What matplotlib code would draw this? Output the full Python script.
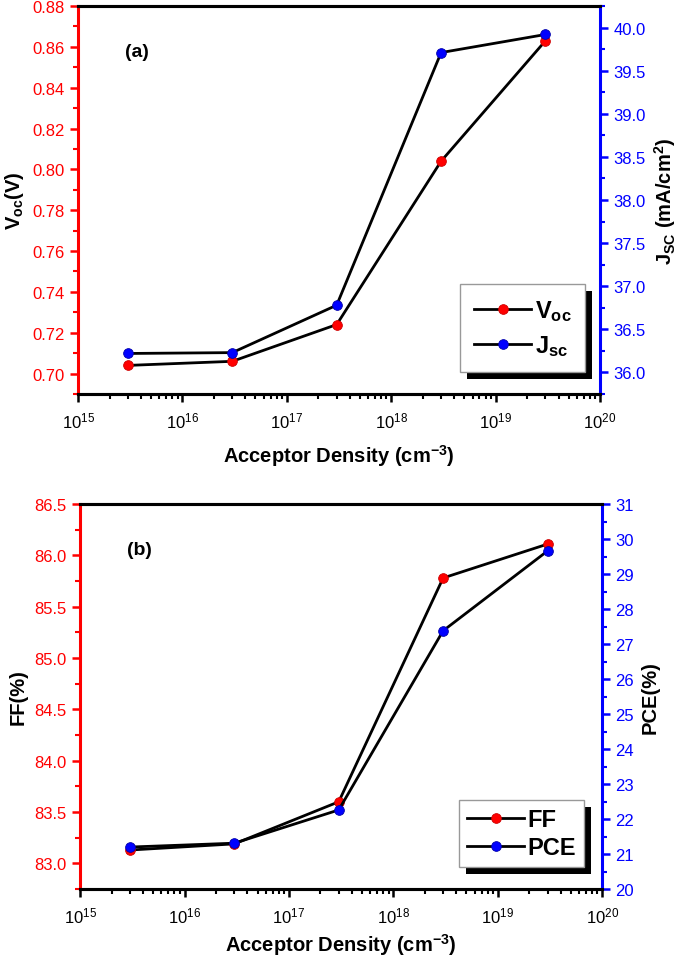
import matplotlib
matplotlib.use("Agg")
import matplotlib.pyplot as plt
from matplotlib.ticker import MultipleLocator, LogLocator, NullFormatter
from matplotlib.patches import Rectangle

plt.rcParams['font.family'] = ['Liberation Sans', 'DejaVu Sans']
plt.rcParams['mathtext.fontset'] = 'custom'
plt.rcParams['mathtext.rm'] = 'Liberation Sans'
plt.rcParams['mathtext.it'] = 'Liberation Sans:italic'
plt.rcParams['mathtext.bf'] = 'Liberation Sans:bold'
plt.rcParams['axes.unicode_minus'] = False

# acceptor density (cm^-3)
density = [3e15, 3e16, 3e17, 3e18, 3e19]

# panel (a)
voc = [0.704, 0.706, 0.724, 0.804, 0.863]
jsc = [36.22, 36.23, 36.78, 39.71, 39.92]

# panel (b)
ff = [83.13, 83.19, 83.60, 85.78, 86.11]
pce = [21.20, 21.31, 22.26, 27.38, 29.66]

fig = plt.figure(figsize=(6.85, 9.62), dpi=100)


def make_panel(rect, left_vals, right_vals, left_lim, right_lim, left_step, right_step,
               left_fmt, left_label, right_label, tag, names, leg_anchor, leg_size,
               leg_pad, leg_space, xpad):
    ax = fig.add_axes(rect)
    ax2 = ax.twinx()
    ax.set_xscale('log')
    ax.set_xlim(1e15, 1e20)
    ax.set_ylim(*left_lim)
    ax2.set_ylim(*right_lim)

    ax.plot(density, left_vals, color='black', lw=2.0, marker='o', ms=7,
            mfc='red', mec='#cc0000', mew=0.6, zorder=3)
    ax2.plot(density, right_vals, color='black', lw=2.0, marker='o', ms=7,
             mfc='blue', mec='#0000aa', mew=0.6, zorder=3)

    # spines
    for a in (ax, ax2):
        a.spines['top'].set_linewidth(2.2)
        a.spines['bottom'].set_linewidth(2.2)
    ax.spines['left'].set_color('red')
    ax.spines['left'].set_linewidth(2.2)
    ax2.spines['right'].set_color('blue')
    ax2.spines['right'].set_linewidth(2.2)
    ax2.spines['left'].set_visible(False)

    # x ticks
    ax.xaxis.set_major_locator(LogLocator(base=10, numticks=10))
    ax.xaxis.set_minor_locator(LogLocator(base=10, subs=range(2, 10), numticks=100))
    ax.xaxis.set_minor_formatter(NullFormatter())
    ax.tick_params(axis='x', which='major', direction='out', length=6, width=1.8,
                   labelsize=12, pad=6)
    ax.tick_params(axis='x', which='minor', direction='out', length=3.5, width=1.5)

    # y ticks
    ax.yaxis.set_major_locator(MultipleLocator(left_step))
    ax.yaxis.set_minor_locator(MultipleLocator(left_step / 2))
    ax.yaxis.set_major_formatter(left_fmt)
    ax.tick_params(axis='y', which='major', direction='out', length=6, width=1.8,
                   colors='red', labelsize=12)
    ax.tick_params(axis='y', which='minor', direction='out', length=3.5, width=1.5,
                   colors='red')
    ax2.yaxis.set_major_locator(MultipleLocator(right_step))
    ax2.yaxis.set_minor_locator(MultipleLocator(right_step / 2))
    ax2.tick_params(axis='y', which='major', direction='out', length=6, width=1.8,
                    colors='blue', labelsize=12)
    ax2.tick_params(axis='y', which='minor', direction='out', length=3.5, width=1.5,
                    colors='blue')

    ax.set_xlabel('Acceptor Density (cm$\\mathbf{^{-3}}$)', fontsize=14.5,
                  fontweight='bold', labelpad=xpad)
    ax.set_ylabel(left_label, fontsize=14.5, fontweight='bold', labelpad=5)
    ax2.set_ylabel(right_label, fontsize=14.5, fontweight='bold', labelpad=5)

    ax.text(0.09, 0.87, tag, transform=ax.transAxes, fontsize=14, fontweight='bold')

    h1 = ax.get_lines()[0]
    h2 = ax2.get_lines()[0]
    leg = ax2.legend([h1, h2], names, loc='lower left', bbox_to_anchor=leg_anchor,
                     borderaxespad=0, fancybox=False, edgecolor='#999999',
                     framealpha=1, handlelength=2.4, handletextpad=0.15,
                     borderpad=leg_pad, labelspacing=leg_space,
                     prop={'weight': 'bold', 'size': leg_size})
    leg.get_frame().set_linewidth(1.0)
    return ax, ax2, leg


ax_a, ax_a2, leg_a = make_panel(
    [0.114, 0.5894, 0.762, 0.4033], voc, jsc, (0.69, 0.88), (35.75, 40.25),
    0.02, 0.5, '{x:.2f}', 'V$\\mathbf{_{oc}}$(V)',
    'J$\\mathbf{_{SC}}$ (mA/cm$\\mathbf{^{2}}$)', '(a)',
    ['V$\\mathbf{_{oc}}$', 'J$\\mathbf{_{sc}}$'], (0.732, 0.057), 17, 0.6, 0.4, 8)

ax_b, ax_b2, leg_b = make_panel(
    [0.117, 0.0748, 0.762, 0.4002], ff, pce, (82.75, 86.5), (20, 31),
    0.5, 1, '{x:.1f}', 'FF(%)', 'PCE(%)', '(b)',
    ['FF', 'PCE'], (0.726, 0.057), 17, 0.35, 0.2, 4)

# black drop shadow behind the legend boxes
fig.canvas.draw()
inv = fig.transFigure.inverted()
for leg, ax2 in ((leg_a, ax_a2), (leg_b, ax_b2)):
    bb = leg.get_window_extent()
    (x0, y0), (x1, y1) = inv.transform([[bb.x0 + 7, bb.y0 - 7], [bb.x1 + 7, bb.y1 - 7]])
    shadow = Rectangle((x0, y0), x1 - x0, y1 - y0, transform=fig.transFigure,
                       facecolor='black', edgecolor='none', zorder=4)
    ax2.add_artist(shadow)
    shadow.set_clip_on(False)
    leg.set_zorder(6)

fig.savefig('out.png', dpi=100)
